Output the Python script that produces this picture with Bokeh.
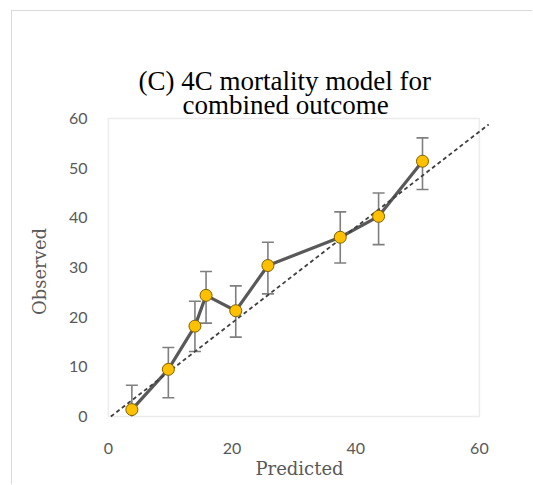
import numpy as np
from bokeh.plotting import figure
from bokeh.models import Range1d, FixedTicker, BoxAnnotation, Title
from bokeh.embed import file_html
from bokeh.resources import INLINE

# ---- data ----
predicted = [3.8, 9.7, 14.0, 15.8, 20.6, 25.8, 37.5, 43.7, 50.8]
observed = [1.4, 9.5, 18.2, 24.4, 21.3, 30.4, 36.1, 40.3, 51.4]
err_upper = [6.3, 13.9, 23.2, 29.2, 26.3, 35.1, 41.2, 45.0, 56.1]
err_lower = [-3.5, 3.8, 13.1, 18.8, 16.0, 24.7, 30.9, 34.6, 45.7]
ref_x = [0.4, 61.5]
ref_y = [0.0, 58.8]
x_ticks = [0, 20, 40, 60]
y_ticks = [0, 10, 20, 30, 40, 50, 60]
axis_min, axis_max = 0, 60
title_lines = ["(C) 4C mortality model for", "combined outcome"]
x_label = "Predicted"
y_label = "Observed"

GRAY = "#595959"

p = figure(width=521, height=474,
           x_range=Range1d(-0.3, 62.12), y_range=Range1d(-2, 60.4),
           output_backend="svg", toolbar_location=None,
           min_border_left=94, min_border_right=41,
           min_border_top=105, min_border_bottom=59)
p.outline_line_color = None
p.xgrid.visible = False
p.ygrid.visible = False
p.background_fill_color = "white"
p.border_fill_color = "white"

for ax, ticks, lab in ((p.xaxis, x_ticks, x_label), (p.yaxis, y_ticks, y_label)):
    ax.ticker = FixedTicker(ticks=ticks)
    ax.axis_line_color = None
    ax.major_tick_line_color = None
    ax.minor_tick_line_color = None
    ax.major_label_text_font = "Lato"
    ax.major_label_text_font_size = "16px"
    ax.major_label_text_color = GRAY
    ax.axis_label = lab
    ax.axis_label_text_font = "DejaVu Serif"
    ax.axis_label_text_font_size = "18px"
    ax.axis_label_text_font_style = "normal"
    ax.axis_label_text_color = GRAY
p.xaxis.major_label_standoff = 10
p.xaxis.axis_label_standoff = 1
p.yaxis.major_label_standoff = 13
p.yaxis.axis_label_standoff = 16

box = BoxAnnotation(left=axis_min, right=axis_max, bottom=axis_min, top=axis_max,
                    fill_color=None, line_color="#bfbfbf", line_width=1.5, level="underlay")
p.add_layout(box)

lo = np.maximum(np.array(err_lower), axis_min)
up = np.array(err_upper)
xs = np.array(predicted)
p.segment(x0=xs, y0=lo, x1=xs, y1=up, line_color="#7f7f7f", line_width=1.6)
p.scatter(xs, up, marker="dash", size=12, line_color="#7f7f7f", line_width=1.6)
mask = np.array(err_lower) >= axis_min
p.scatter(xs[mask], lo[mask], marker="dash", size=12, line_color="#7f7f7f", line_width=1.6)

p.line(predicted, observed, line_color=GRAY, line_width=3.2)
p.line(ref_x, ref_y, line_color="#404040", line_width=1.8, line_dash="4 3")
p.scatter(predicted, observed, size=12, fill_color="#FFC000", line_color="#7f6000", line_width=1)

# title as two lines, innermost first, positioned from the frame's left edge
for line, so, off in zip(reversed(title_lines), [-7, -8], [76, 32]):
    p.add_layout(Title(text=line, align="left", offset=off, standoff=so,
                       text_font="Liberation Serif", text_font_size="27px",
                       text_font_style="normal", text_color="black"), "above")

p.margin = (10, 0, 0, 11)
p.styles = {"border-top": "1px solid #d9d9d9", "border-left": "1px solid #d9d9d9"}

open("out.html", "w").write(file_html(p, INLINE))
